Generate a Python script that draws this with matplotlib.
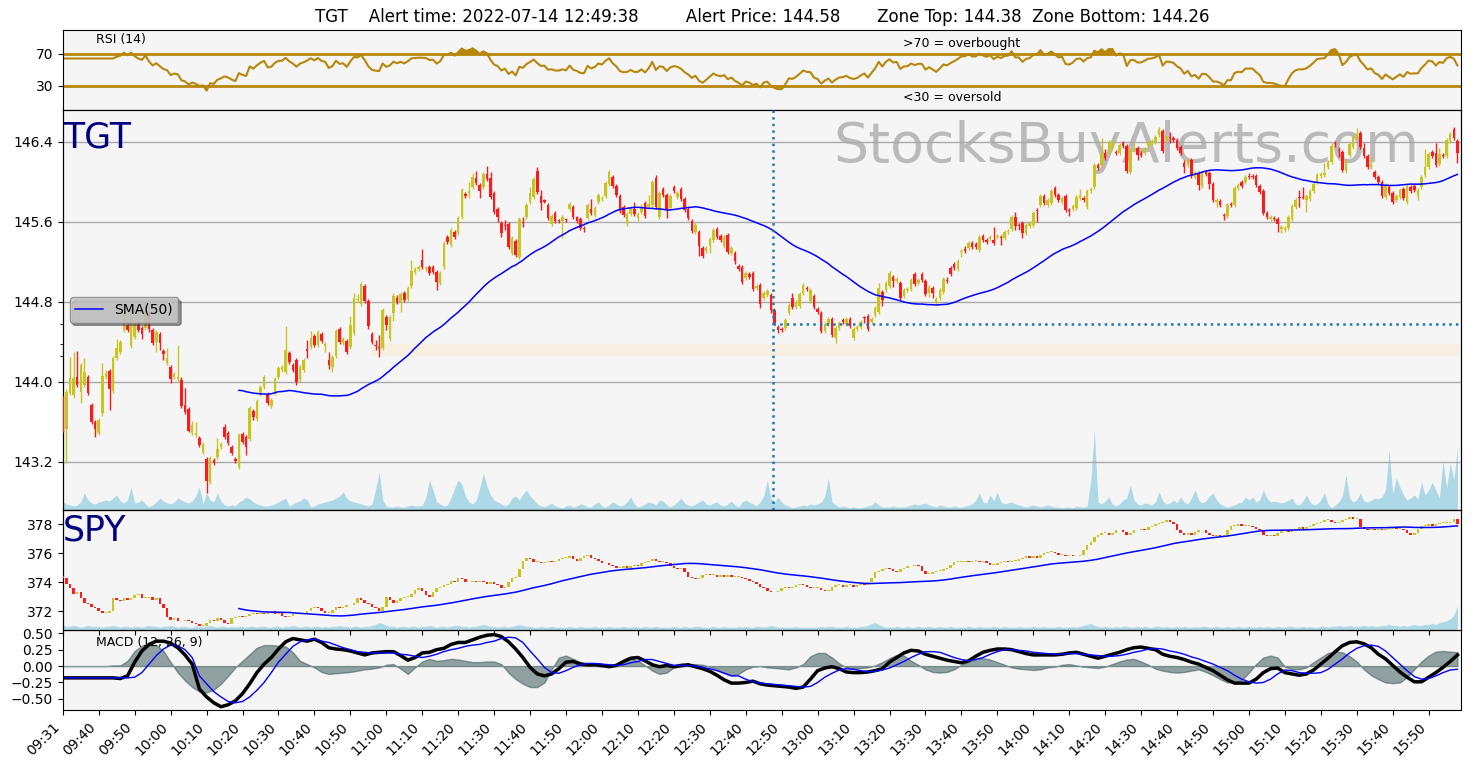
import numpy as np
import pandas as pd
import matplotlib
matplotlib.use("Agg")
import matplotlib.pyplot as plt

# alert info
symbol = "TGT"
alert_time = "2022-07-14 12:49:38"
alert_price = 144.58
zone_top = 144.38
zone_bottom = 144.26
alert_index = 197.6
zone_start = 86

tick_labels = ['09:31', '09:40', '09:50', '10:00', '10:10', '10:20', '10:30', '10:40', '10:50',
               '11:00', '11:10', '11:20', '11:30', '11:40', '11:50', '12:00', '12:10', '12:20',
               '12:30', '12:40', '12:50', '13:00', '13:10', '13:20', '13:30', '13:40', '13:50',
               '14:00', '14:10', '14:20', '14:30', '14:40', '14:50', '15:00', '15:10', '15:20',
               '15:30', '15:40', '15:50']

# TGT 1-minute bars
tgt_open = [
    143.82, 143.53, 143.89, 143.87, 144.05, 143.90, 143.97, 144.05, 143.77, 143.60,
    143.49, 143.69, 144.05, 144.11, 143.91, 144.24, 144.30, 144.52, 144.57, 144.36,
    144.45, 144.59, 144.54, 144.54, 144.69, 144.52, 144.40, 144.48, 144.31, 144.19,
    144.15, 144.05, 144.03, 144.02, 143.77, 143.73, 143.49, 143.47, 143.44, 143.30,
    143.23, 143.00, 143.22, 143.25, 143.35, 143.55, 143.49, 143.35, 143.23, 143.15,
    143.48, 143.45, 143.43, 143.71, 143.63, 143.88, 143.95, 143.88, 143.76, 143.89,
    144.05, 144.12, 144.10, 144.29, 144.17, 144.22, 144.02, 144.12, 144.33, 144.35,
    144.46, 144.37, 144.48, 144.36, 144.22, 144.15, 144.26, 144.53, 144.39, 144.41,
    144.35, 144.49, 144.82, 144.78, 144.96, 144.81, 144.48, 144.37, 144.35, 144.34,
    144.65, 144.43, 144.69, 144.84, 144.80, 144.89, 144.83, 144.96, 145.10, 145.13,
    145.22, 145.13, 145.15, 145.15, 145.10, 144.99, 145.15, 145.45, 145.37, 145.50,
    145.49, 145.65, 145.88, 145.89, 145.95, 146.04, 145.97, 145.95, 146.08, 146.04,
    145.89, 145.73, 145.59, 145.57, 145.58, 145.29, 145.41, 145.25, 145.60, 145.65,
    145.80, 145.85, 146.11, 145.86, 145.82, 145.77, 145.58, 145.69, 145.62, 145.61,
    145.63, 145.73, 145.75, 145.65, 145.63, 145.54, 145.64, 145.73, 145.67, 145.80,
    145.83, 145.86, 145.98, 146.05, 145.96, 145.86, 145.75, 145.59, 145.68, 145.73,
    145.64, 145.70, 145.79, 145.75, 145.77, 146.04, 145.65, 145.93, 145.87, 145.74,
    145.95, 145.85, 145.93, 145.83, 145.73, 145.61, 145.50, 145.50, 145.34, 145.31,
    145.36, 145.42, 145.53, 145.46, 145.36, 145.47, 145.29, 145.29, 145.16, 145.15,
    145.04, 145.08, 145.09, 144.94, 144.97, 144.84, 144.87, 144.87, 144.72, 144.55,
    144.53, 144.54, 144.69, 144.84, 144.75, 144.76, 144.89, 144.94, 144.81, 144.86,
    144.73, 144.69, 144.51, 144.58, 144.63, 144.44, 144.54, 144.62, 144.58, 144.63,
    144.44, 144.53, 144.55, 144.65, 144.66, 144.60, 144.67, 144.70, 144.90, 144.92,
    144.96, 145.05, 145.01, 144.99, 144.86, 144.92, 144.93, 145.08, 144.99, 145.08,
    145.01, 144.89, 144.94, 144.79, 144.84, 144.90, 145.02, 145.14, 145.18, 145.13,
    145.30, 145.33, 145.34, 145.39, 145.38, 145.32, 145.46, 145.42, 145.43, 145.42,
    145.45, 145.45, 145.44, 145.50, 145.53, 145.65, 145.57, 145.59, 145.49, 145.56,
    145.57, 145.72, 145.77, 145.86, 145.77, 145.79, 145.94, 145.87, 145.80, 145.86,
    145.72, 145.73, 145.74, 145.84, 145.84, 145.75, 145.91, 145.95, 146.17, 146.17,
    146.29, 146.29, 146.34, 146.30, 146.29, 146.39, 146.36, 146.10, 146.32, 146.34,
    146.29, 146.29, 146.36, 146.39, 146.40, 146.47, 146.51, 146.42, 146.45, 146.44,
    146.42, 146.35, 146.19, 146.17, 146.22, 146.05, 146.09, 145.96, 146.10, 146.09,
    145.98, 145.80, 145.81, 145.67, 145.66, 145.78, 145.77, 145.94, 146.00, 146.00,
    146.06, 146.06, 146.06, 145.96, 145.91, 145.69, 145.63, 145.64, 145.63, 145.53,
    145.52, 145.54, 145.63, 145.75, 145.85, 145.85, 145.82, 145.83, 145.91, 146.00,
    146.06, 146.07, 146.15, 146.20, 146.39, 146.32, 146.30, 146.11, 146.27, 146.35,
    146.45, 146.49, 146.34, 146.26, 146.15, 146.10, 146.05, 146.00, 145.85, 145.95,
    145.89, 145.82, 145.85, 145.93, 145.80, 145.95, 145.96, 145.86, 145.95, 146.07,
    146.15, 146.30, 146.29, 146.18, 146.27, 146.26, 146.41, 146.53, 146.41]

tgt_high = [
    143.86, 143.93, 144.25, 144.30, 144.31, 144.19, 144.24, 144.07, 143.79, 143.62,
    143.64, 144.19, 144.12, 144.13, 144.26, 144.43, 144.42, 144.69, 144.60, 144.75,
    144.61, 144.61, 144.56, 144.80, 144.71, 144.54, 144.52, 144.50, 144.33, 144.34,
    144.17, 144.10, 144.37, 144.05, 143.94, 143.75, 143.61, 143.60, 143.46, 143.40,
    143.25, 143.26, 143.24, 143.44, 143.40, 143.58, 143.51, 143.37, 143.25, 143.48,
    143.50, 143.47, 143.76, 143.73, 143.83, 143.97, 144.07, 143.90, 143.84, 144.05,
    144.16, 144.17, 144.56, 144.31, 144.19, 144.24, 144.17, 144.24, 144.42, 144.51,
    144.48, 144.52, 144.50, 144.40, 144.30, 144.27, 144.53, 144.55, 144.45, 144.43,
    144.66, 144.89, 144.88, 145.00, 144.98, 144.83, 144.50, 144.42, 144.47, 144.74,
    144.67, 144.67, 144.89, 144.87, 144.90, 144.91, 144.96, 145.22, 145.15, 145.17,
    145.33, 145.16, 145.17, 145.17, 145.12, 145.11, 145.41, 145.47, 145.54, 145.52,
    145.66, 145.94, 145.90, 146.00, 146.09, 146.11, 145.99, 146.10, 146.16, 146.10,
    145.91, 145.75, 145.61, 145.62, 145.60, 145.46, 145.43, 145.65, 145.65, 145.79,
    145.95, 146.05, 146.15, 145.92, 145.83, 145.79, 145.68, 145.71, 145.63, 145.67,
    145.64, 145.80, 145.77, 145.66, 145.65, 145.56, 145.79, 145.83, 145.76, 145.89,
    145.86, 146.01, 146.12, 146.07, 145.98, 145.88, 145.77, 145.70, 145.76, 145.80,
    145.70, 145.78, 145.81, 145.87, 146.02, 146.07, 145.91, 145.95, 145.89, 145.88,
    145.97, 145.91, 145.95, 145.85, 145.75, 145.63, 145.60, 145.52, 145.36, 145.36,
    145.45, 145.54, 145.55, 145.48, 145.47, 145.49, 145.36, 145.31, 145.18, 145.17,
    145.11, 145.10, 145.11, 144.98, 144.99, 144.91, 144.93, 144.89, 144.74, 144.57,
    144.55, 144.64, 144.79, 144.89, 144.82, 144.90, 144.99, 144.96, 144.94, 144.88,
    144.75, 144.71, 144.60, 144.65, 144.65, 144.56, 144.61, 144.64, 144.65, 144.65,
    144.55, 144.57, 144.62, 144.66, 144.68, 144.65, 144.76, 144.99, 144.92, 145.01,
    145.11, 145.07, 145.05, 145.01, 144.94, 144.95, 145.04, 145.10, 145.04, 145.10,
    145.03, 144.97, 144.96, 144.85, 144.94, 145.05, 145.05, 145.16, 145.20, 145.23,
    145.33, 145.36, 145.41, 145.41, 145.40, 145.47, 145.48, 145.44, 145.47, 145.55,
    145.48, 145.47, 145.52, 145.53, 145.67, 145.70, 145.59, 145.61, 145.59, 145.61,
    145.71, 145.74, 145.88, 145.88, 145.84, 145.93, 145.96, 145.89, 145.86, 145.88,
    145.74, 145.78, 145.87, 145.93, 145.86, 145.93, 145.95, 146.19, 146.19, 146.44,
    146.33, 146.42, 146.42, 146.32, 146.39, 146.41, 146.38, 146.34, 146.40, 146.36,
    146.31, 146.35, 146.42, 146.43, 146.47, 146.55, 146.53, 146.47, 146.50, 146.46,
    146.44, 146.37, 146.22, 146.24, 146.24, 146.11, 146.11, 146.11, 146.12, 146.11,
    146.00, 145.84, 145.83, 145.69, 145.79, 145.80, 145.96, 145.99, 146.02, 146.07,
    146.09, 146.08, 146.08, 145.98, 145.93, 145.71, 145.67, 145.66, 145.65, 145.57,
    145.56, 145.67, 145.78, 145.84, 145.92, 145.95, 145.88, 145.93, 146.00, 146.09,
    146.10, 146.19, 146.22, 146.39, 146.41, 146.35, 146.32, 146.23, 146.40, 146.47,
    146.54, 146.51, 146.39, 146.28, 146.24, 146.12, 146.07, 146.02, 145.99, 145.97,
    145.91, 145.88, 145.94, 145.95, 145.98, 145.97, 145.98, 145.94, 146.07, 146.33,
    146.30, 146.32, 146.39, 146.34, 146.29, 146.44, 146.50, 146.55, 146.43]

tgt_low = [
    143.50, 143.19, 143.87, 143.84, 143.95, 143.79, 143.95, 143.87, 143.58, 143.45,
    143.47, 143.66, 144.03, 143.72, 143.89, 144.22, 144.28, 144.50, 144.50, 144.34,
    144.43, 144.50, 144.43, 144.52, 144.50, 144.37, 144.30, 144.32, 144.22, 144.17,
    143.99, 144.03, 144.00, 143.74, 143.68, 143.50, 143.47, 143.45, 143.35, 143.28,
    142.89, 142.98, 143.17, 143.23, 143.33, 143.43, 143.37, 143.27, 143.19, 143.13,
    143.38, 143.27, 143.41, 143.62, 143.61, 143.86, 143.93, 143.77, 143.74, 143.87,
    144.03, 144.10, 144.08, 144.18, 144.10, 143.97, 144.00, 144.10, 144.24, 144.33,
    144.35, 144.35, 144.39, 144.30, 144.13, 144.10, 144.24, 144.38, 144.37, 144.28,
    144.33, 144.47, 144.80, 144.76, 144.79, 144.53, 144.38, 144.32, 144.25, 144.32,
    144.52, 144.41, 144.61, 144.78, 144.70, 144.80, 144.81, 144.94, 145.08, 145.11,
    145.13, 145.11, 145.07, 145.08, 144.92, 144.97, 145.13, 145.38, 145.35, 145.43,
    145.47, 145.63, 145.84, 145.84, 145.93, 145.97, 145.84, 145.93, 146.01, 145.83,
    145.68, 145.60, 145.45, 145.52, 145.33, 145.27, 145.25, 145.23, 145.55, 145.63,
    145.78, 145.83, 145.88, 145.72, 145.79, 145.62, 145.56, 145.59, 145.59, 145.44,
    145.60, 145.71, 145.63, 145.59, 145.52, 145.50, 145.62, 145.67, 145.65, 145.78,
    145.81, 145.84, 145.96, 145.94, 145.85, 145.69, 145.65, 145.56, 145.66, 145.66,
    145.61, 145.68, 145.64, 145.73, 145.75, 145.73, 145.63, 145.85, 145.64, 145.72,
    145.89, 145.83, 145.81, 145.70, 145.62, 145.49, 145.48, 145.26, 145.24, 145.29,
    145.29, 145.40, 145.43, 145.40, 145.34, 145.28, 145.27, 145.18, 145.11, 144.98,
    145.02, 145.03, 144.91, 144.92, 144.74, 144.82, 144.85, 144.69, 144.57, 144.49,
    144.50, 144.52, 144.67, 144.73, 144.73, 144.74, 144.87, 144.91, 144.79, 144.73,
    144.68, 144.49, 144.49, 144.56, 144.45, 144.39, 144.52, 144.58, 144.56, 144.54,
    144.42, 144.51, 144.53, 144.59, 144.51, 144.58, 144.65, 144.68, 144.76, 144.90,
    144.94, 144.95, 144.99, 144.82, 144.84, 144.90, 144.91, 144.96, 144.97, 145.00,
    144.86, 144.85, 144.84, 144.77, 144.82, 144.88, 144.99, 145.06, 145.12, 145.11,
    145.25, 145.29, 145.32, 145.33, 145.33, 145.30, 145.40, 145.38, 145.41, 145.37,
    145.43, 145.37, 145.42, 145.48, 145.51, 145.52, 145.52, 145.44, 145.47, 145.54,
    145.55, 145.60, 145.75, 145.77, 145.75, 145.77, 145.85, 145.80, 145.78, 145.70,
    145.66, 145.71, 145.72, 145.82, 145.80, 145.73, 145.89, 145.93, 146.12, 146.15,
    146.22, 146.27, 146.32, 146.27, 146.27, 146.34, 146.09, 146.08, 146.30, 146.22,
    146.25, 146.27, 146.34, 146.37, 146.38, 146.45, 146.29, 146.40, 146.39, 146.40,
    146.32, 146.27, 146.09, 146.15, 146.04, 146.03, 145.92, 145.94, 146.06, 145.93,
    145.80, 145.75, 145.75, 145.62, 145.64, 145.75, 145.75, 145.92, 145.94, 145.98,
    146.03, 146.03, 145.95, 145.88, 145.67, 145.63, 145.61, 145.61, 145.50, 145.49,
    145.50, 145.52, 145.61, 145.73, 145.75, 145.83, 145.70, 145.81, 145.89, 145.98,
    146.04, 146.05, 146.13, 146.18, 146.35, 146.25, 146.10, 146.09, 146.25, 146.33,
    146.43, 146.33, 146.24, 146.13, 146.13, 146.03, 145.98, 145.84, 145.83, 145.87,
    145.78, 145.80, 145.83, 145.82, 145.78, 145.89, 145.90, 145.82, 145.93, 146.05,
    146.13, 146.24, 146.15, 146.16, 146.24, 146.24, 146.39, 146.42, 146.19]

tgt_close = [
    143.55, 143.90, 144.04, 144.04, 143.97, 144.17, 144.10, 143.89, 143.60, 143.53,
    143.62, 144.06, 144.09, 143.93, 144.24, 144.34, 144.40, 144.59, 144.52, 144.69,
    144.59, 144.52, 144.48, 144.72, 144.53, 144.39, 144.50, 144.39, 144.28, 144.24,
    144.03, 144.08, 144.05, 143.76, 143.70, 143.51, 143.57, 143.49, 143.37, 143.38,
    143.01, 143.24, 143.19, 143.33, 143.38, 143.45, 143.39, 143.29, 143.21, 143.48,
    143.40, 143.35, 143.74, 143.65, 143.81, 143.95, 144.05, 143.79, 143.82, 144.03,
    144.14, 144.15, 144.32, 144.20, 144.12, 144.00, 144.15, 144.22, 144.31, 144.44,
    144.37, 144.50, 144.41, 144.38, 144.17, 144.25, 144.51, 144.40, 144.43, 144.30,
    144.57, 144.84, 144.83, 144.98, 144.81, 144.56, 144.40, 144.36, 144.34, 144.72,
    144.57, 144.65, 144.86, 144.80, 144.88, 144.82, 144.94, 145.11, 145.13, 145.15,
    145.15, 145.14, 145.09, 145.10, 145.00, 145.09, 145.39, 145.40, 145.52, 145.45,
    145.64, 145.92, 145.86, 145.91, 146.05, 145.99, 145.91, 146.08, 146.03, 145.85,
    145.70, 145.65, 145.49, 145.56, 145.35, 145.44, 145.27, 145.63, 145.59, 145.77,
    145.89, 146.03, 145.90, 145.79, 145.80, 145.64, 145.66, 145.61, 145.61, 145.65,
    145.62, 145.78, 145.65, 145.61, 145.54, 145.53, 145.77, 145.69, 145.74, 145.87,
    145.84, 145.99, 146.10, 145.96, 145.87, 145.71, 145.67, 145.68, 145.74, 145.68,
    145.68, 145.75, 145.66, 145.78, 146.00, 145.75, 145.89, 145.87, 145.73, 145.86,
    145.91, 145.89, 145.83, 145.72, 145.64, 145.51, 145.57, 145.36, 145.26, 145.34,
    145.43, 145.52, 145.45, 145.42, 145.45, 145.30, 145.34, 145.21, 145.13, 145.00,
    145.09, 145.05, 144.93, 144.96, 144.78, 144.89, 144.91, 144.72, 144.59, 144.52,
    144.52, 144.62, 144.77, 144.75, 144.80, 144.88, 144.97, 144.93, 144.92, 144.75,
    144.70, 144.51, 144.58, 144.63, 144.47, 144.54, 144.59, 144.60, 144.63, 144.56,
    144.53, 144.55, 144.60, 144.64, 144.53, 144.63, 144.74, 144.94, 144.82, 144.99,
    145.09, 145.01, 145.03, 144.84, 144.92, 144.93, 145.02, 144.98, 145.02, 145.02,
    144.88, 144.95, 144.89, 144.83, 144.92, 145.03, 145.01, 145.08, 145.14, 145.21,
    145.31, 145.31, 145.39, 145.35, 145.35, 145.45, 145.42, 145.40, 145.45, 145.39,
    145.46, 145.44, 145.50, 145.51, 145.65, 145.56, 145.56, 145.49, 145.57, 145.59,
    145.69, 145.71, 145.86, 145.79, 145.82, 145.91, 145.87, 145.82, 145.84, 145.72,
    145.71, 145.76, 145.85, 145.87, 145.82, 145.91, 145.93, 146.17, 146.14, 146.29,
    146.24, 146.40, 146.40, 146.29, 146.37, 146.36, 146.11, 146.32, 146.33, 146.27,
    146.27, 146.33, 146.40, 146.41, 146.45, 146.53, 146.31, 146.45, 146.44, 146.42,
    146.34, 146.29, 146.15, 146.22, 146.06, 146.09, 145.97, 146.09, 146.08, 145.98,
    145.82, 145.82, 145.77, 145.66, 145.77, 145.77, 145.94, 145.97, 145.96, 146.05,
    146.05, 146.05, 145.97, 145.90, 145.69, 145.65, 145.65, 145.63, 145.58, 145.55,
    145.54, 145.65, 145.76, 145.82, 145.84, 145.84, 145.86, 145.91, 145.98, 146.07,
    146.08, 146.09, 146.20, 146.36, 146.38, 146.31, 146.12, 146.21, 146.38, 146.45,
    146.48, 146.35, 146.26, 146.15, 146.18, 146.05, 146.00, 145.86, 145.97, 145.89,
    145.80, 145.86, 145.92, 145.84, 145.96, 145.91, 145.92, 145.92, 146.05, 146.15,
    146.28, 146.26, 146.17, 146.28, 146.26, 146.42, 146.48, 146.44, 146.29]

tgt_volume = [
    8, 6, 5, 4, 5, 8, 17, 10, 7, 6,
    8, 9, 10, 9, 12, 15, 9, 7, 10, 23,
    7, 8, 10, 6, 3, 5, 8, 12, 9, 7,
    6, 8, 12, 10, 8, 7, 9, 14, 23, 6,
    17, 10, 8, 17, 9, 5, 4, 5, 4, 8,
    10, 13, 11, 8, 6, 5, 4, 4, 5, 6,
    8, 10, 12, 4, 6, 8, 9, 12, 10, 3,
    4, 6, 7, 8, 9, 10, 12, 14, 18, 12,
    9, 8, 7, 6, 5, 4, 6, 20, 38, 10,
    4, 3, 3, 4, 3, 3, 4, 5, 4, 4,
    5, 12, 30, 20, 8, 6, 4, 5, 12, 22,
    30, 26, 14, 8, 6, 10, 22, 37, 24, 15,
    10, 8, 6, 4, 6, 12, 14, 10, 16, 20,
    14, 10, 6, 4, 3, 5, 7, 4, 3, 2,
    4, 5, 3, 4, 6, 5, 3, 3, 6, 8,
    4, 3, 5, 8, 6, 4, 5, 8, 13, 6,
    3, 4, 6, 8, 7, 5, 10, 9, 5, 3,
    5, 8, 12, 7, 5, 4, 6, 8, 10, 6,
    5, 7, 8, 5, 4, 6, 9, 5, 3, 8,
    10, 8, 6, 4, 8, 14, 30, 12, 8, 13,
    8, 5, 4, 2, 3, 4, 5, 4, 6, 5,
    6, 8, 14, 32, 8, 5, 3, 4, 3, 2,
    3, 2, 2, 3, 4, 5, 8, 5, 3, 3,
    3, 4, 3, 3, 3, 4, 5, 6, 5, 6,
    7, 5, 4, 3, 5, 4, 3, 3, 4, 3,
    3, 4, 5, 6, 10, 17, 8, 7, 15, 9,
    18, 8, 6, 7, 8, 6, 5, 4, 3, 4,
    5, 4, 3, 4, 5, 4, 3, 3, 2, 3,
    3, 2, 4, 3, 3, 4, 30, 80, 8, 6,
    9, 13, 6, 4, 6, 10, 12, 25, 10, 6,
    5, 7, 6, 5, 8, 18, 9, 6, 7, 10,
    7, 13, 8, 6, 12, 20, 10, 7, 9, 14,
    17, 10, 6, 4, 3, 4, 5, 7, 8, 13,
    10, 13, 8, 10, 20, 12, 8, 9, 8, 7,
    8, 10, 12, 6, 5, 9, 15, 8, 5, 6,
    10, 17, 6, 2, 5, 8, 14, 35, 12, 8,
    10, 17, 9, 8, 10, 12, 11, 13, 20, 60,
    16, 32, 23, 15, 10, 12, 15, 11, 28, 15,
    20, 28, 20, 12, 50, 22, 47, 30, 63]

# SPY 1-minute closes (open = previous close)
spy_first_open = 374.45
spy_close = [
    374.3, 373.9, 373.6, 373.2, 373.3, 372.9, 372.6, 372.5, 372.3, 372.2,
    372.0, 371.9, 371.9, 372.0, 372.9, 372.8, 372.7, 372.9, 372.8, 372.9,
    373.1, 373.2, 372.9, 372.9, 373.0, 372.8, 372.9, 372.5, 372.2, 371.6,
    371.4, 371.5, 371.3, 371.3, 371.4, 371.3, 371.2, 371.1, 371.0, 371.0,
    371.2, 371.4, 371.3, 371.5, 371.4, 371.2, 371.1, 371.5, 371.6, 371.7,
    371.6, 371.7, 371.8, 371.9, 371.8, 371.9, 371.8, 371.9, 372.0, 371.8,
    371.9, 371.7, 371.6, 371.7, 371.8, 371.8, 371.9, 371.8, 372.0, 372.2,
    372.3, 372.2, 372.0, 371.9, 371.9, 372.1, 372.3, 372.2, 372.3, 372.4,
    372.4, 372.6, 372.9, 372.8, 372.6, 372.5, 372.3, 372.2, 372.0, 372.3,
    373.0, 372.8, 372.6, 372.7, 372.9, 373.0, 373.0, 373.2, 373.5, 373.6,
    373.4, 373.1, 373.0, 373.3, 373.6, 373.7, 373.8, 373.9, 374.1, 374.0,
    374.3, 374.2, 374.0, 374.0, 374.1, 374.0, 374.1, 374.0, 373.9, 374.0,
    373.9, 373.8, 373.6, 373.7, 374.0, 374.3, 374.4, 374.9, 375.5, 375.7,
    375.6, 375.4, 375.4, 375.3, 375.4, 375.5, 375.4, 375.5, 375.6, 375.7,
    375.7, 375.8, 375.6, 375.5, 375.7, 375.8, 375.9, 375.7, 375.6, 375.5,
    375.3, 375.3, 375.2, 375.1, 375.0, 375.0, 375.1, 375.0, 375.1, 375.2,
    375.1, 375.3, 375.4, 375.5, 375.6, 375.5, 375.4, 375.4, 375.3, 375.1,
    375.0, 374.9, 375.0, 374.7, 374.4, 374.3, 374.2, 374.3, 374.5, 374.6,
    374.5, 374.5, 374.4, 374.5, 374.4, 374.5, 374.4, 374.4, 374.4, 374.3,
    374.2, 374.1, 374.0, 373.9, 373.7, 373.6, 373.4, 373.3, 373.3, 373.4,
    373.6, 373.7, 373.6, 373.7, 373.8, 373.9, 373.8, 373.7, 373.6, 373.6,
    373.6, 373.5, 373.4, 373.4, 373.7, 373.8, 373.8, 373.7, 373.8, 373.8,
    373.7, 373.8, 373.9, 373.8, 374.0, 374.3, 374.7, 374.8, 374.9, 375.0,
    374.9, 374.8, 374.7, 374.9, 375.0, 375.1, 375.1, 375.2, 375.1, 374.8,
    374.6, 374.6, 374.7, 374.8, 374.8, 374.9, 375.0, 375.2, 375.4, 375.4,
    375.4, 375.5, 375.4, 375.5, 375.5, 375.4, 375.5, 375.3, 375.2, 375.2,
    375.3, 375.4, 375.5, 375.4, 375.5, 375.5, 375.6, 375.7, 375.8, 375.7,
    375.8, 375.7, 375.9, 376.0, 376.1, 376.1, 376.0, 375.9, 375.9, 375.8,
    375.9, 375.8, 375.8, 375.9, 376.2, 376.6, 376.8, 377.1, 377.3, 377.4,
    377.4, 377.3, 377.4, 377.6, 377.6, 377.5, 377.3, 377.4, 377.6, 377.6,
    377.7, 377.6, 377.8, 377.9, 378.0, 378.1, 378.2, 378.3, 378.2, 378.0,
    377.6, 377.4, 377.3, 377.4, 377.3, 377.5, 377.6, 377.6, 377.4, 377.3,
    377.2, 377.3, 377.2, 377.3, 377.6, 377.9, 377.9, 378.0, 377.9, 377.9,
    377.9, 377.8, 377.7, 377.6, 377.3, 377.2, 377.3, 377.2, 377.4, 377.6,
    377.6, 377.5, 377.6, 377.7, 377.8, 377.7, 377.8, 377.9, 378.0, 378.1,
    378.2, 378.3, 378.3, 378.2, 378.1, 378.2, 378.3, 378.4, 378.5, 378.4,
    378.4, 377.8, 377.7, 377.6, 377.7, 377.6, 377.7, 377.6, 377.7, 377.7,
    377.8, 377.7, 377.7, 377.6, 377.4, 377.3, 377.4, 377.7, 377.9, 377.9,
    378.0, 377.9, 378.0, 378.1, 378.1, 378.1, 378.2, 378.4, 378.0]

spy_volume = [
    5, 4, 4, 5, 4, 3, 4, 5, 4, 4,
    4, 3, 4, 4, 5, 4, 3, 4, 4, 3,
    4, 4, 3, 4, 5, 4, 4, 3, 4, 4,
    5, 4, 3, 4, 4, 3, 3, 4, 4, 3,
    4, 5, 4, 3, 4, 4, 3, 4, 3, 4,
    4, 3, 4, 4, 3, 4, 4, 3, 3, 4,
    4, 3, 4, 4, 5, 4, 3, 4, 4, 3,
    4, 4, 3, 4, 3, 4, 4, 5, 4, 4,
    3, 4, 4, 3, 4, 4, 5, 6, 8, 7,
    5, 4, 4, 3, 4, 4, 3, 4, 4, 3,
    4, 4, 5, 4, 3, 4, 4, 3, 4, 5,
    5, 4, 4, 3, 4, 4, 5, 6, 5, 4,
    4, 3, 4, 4, 3, 4, 5, 6, 5, 4,
    4, 3, 3, 4, 3, 3, 4, 3, 3, 3,
    3, 4, 3, 3, 4, 3, 3, 3, 4, 3,
    3, 3, 4, 3, 3, 3, 4, 3, 3, 4,
    3, 3, 4, 3, 3, 4, 3, 3, 3, 3,
    4, 3, 3, 4, 3, 3, 4, 4, 3, 3,
    3, 4, 3, 3, 4, 3, 3, 3, 4, 3,
    4, 3, 3, 4, 4, 3, 4, 5, 4, 3,
    3, 3, 3, 3, 4, 3, 3, 3, 3, 3,
    3, 4, 3, 4, 4, 3, 3, 3, 4, 3,
    3, 3, 4, 4, 5, 7, 8, 6, 4, 3,
    3, 3, 4, 3, 3, 4, 3, 3, 4, 3,
    3, 4, 3, 3, 4, 3, 3, 4, 3, 3,
    3, 3, 4, 3, 3, 4, 3, 3, 3, 4,
    3, 3, 4, 3, 3, 3, 4, 3, 3, 3,
    4, 3, 3, 4, 3, 3, 3, 4, 3, 3,
    3, 4, 3, 4, 5, 6, 7, 5, 4, 3,
    4, 3, 3, 4, 3, 4, 4, 3, 3, 4,
    3, 4, 3, 3, 4, 4, 3, 4, 3, 3,
    4, 3, 4, 3, 3, 4, 3, 4, 4, 3,
    3, 4, 3, 3, 4, 3, 3, 4, 3, 3,
    4, 3, 3, 4, 3, 4, 3, 3, 4, 3,
    3, 4, 4, 3, 3, 4, 3, 4, 3, 3,
    4, 4, 3, 4, 4, 5, 4, 4, 5, 4,
    4, 4, 5, 4, 5, 4, 4, 5, 5, 6,
    5, 5, 4, 5, 4, 5, 6, 5, 5, 6,
    6, 7, 6, 8, 9, 10, 12, 16, 26]

# MACD (12, 26, 9) read every 2 bars
macd_step = 2
macd_line = [
    -0.18, -0.18, -0.18, -0.18, -0.18, -0.18, -0.18, -0.18, -0.19,
    -0.15, 0.06, 0.23, 0.33, 0.38, 0.38, 0.35, 0.28, 0.17, 0.03,
    -0.35, -0.47, -0.56, -0.62, -0.59, -0.53, -0.42, -0.27, -0.10, 0.03,
    0.13, 0.26, 0.37, 0.42, 0.40, 0.38, 0.41, 0.36, 0.28, 0.26,
    0.25, 0.23, 0.20, 0.17, 0.20, 0.21, 0.22, 0.22, 0.16, 0.09,
    0.13, 0.20, 0.21, 0.25, 0.27, 0.33, 0.36, 0.36, 0.40, 0.44,
    0.47, 0.48, 0.45, 0.37, 0.26, 0.13, -0.02, -0.12, -0.15, -0.12,
    -0.04, 0.06, 0.07, 0.03, 0.02, 0.02, 0.01, -0.01, 0.01, 0.07,
    0.12, 0.13, 0.08, 0.02, -0.01, 0.01,
    -0.01, 0.01, 0.02, -0.01, -0.04, -0.08, -0.14, -0.21, -0.26,
    -0.26, -0.25, -0.23, -0.27, -0.29, -0.30, -0.31, -0.32, -0.34, -0.32,
    -0.20, -0.07, -0.03, -0.01, -0.04, -0.09, -0.10, -0.10, -0.09, -0.07,
    -0.04, 0.06, 0.13, 0.20, 0.24, 0.23, 0.18, 0.15, 0.12, 0.09,
    0.07, 0.05, 0.08, 0.15, 0.21, 0.24, 0.26, 0.26, 0.25, 0.22,
    0.19, 0.17, 0.17, 0.17, 0.17, 0.18, 0.20, 0.21, 0.18, 0.15,
    0.12, 0.15, 0.18, 0.21, 0.25, 0.28, 0.29, 0.27, 0.25, 0.18,
    0.15, 0.13, 0.10, 0.06, 0.03, -0.02, -0.07, -0.14, -0.21, -0.26,
    -0.26, -0.26, -0.20, -0.10, -0.04, -0.03,
    -0.10, -0.12, -0.14, -0.12, -0.06, 0.03, 0.12, 0.22, 0.31, 0.36,
    0.37, 0.34, 0.28, 0.18, 0.11, 0.01, -0.09, -0.17, -0.24, -0.24,
    -0.17, -0.10, -0.02, 0.07, 0.17]

macd_signal = [
    -0.18, -0.18, -0.18, -0.18, -0.18, -0.18, -0.18, -0.18, -0.18,
    -0.18, -0.17, -0.10, 0.03, 0.16, 0.26, 0.32, 0.31, 0.25, 0.13,
    -0.15, -0.27, -0.39, -0.47, -0.54, -0.56, -0.54, -0.47, -0.37, -0.25,
    -0.10, 0.06, 0.18, 0.30, 0.37, 0.40, 0.41, 0.38, 0.36, 0.32,
    0.28, 0.25, 0.22, 0.21, 0.20, 0.20, 0.20, 0.20, 0.18, 0.17,
    0.15, 0.13, 0.15, 0.18, 0.22, 0.25, 0.27, 0.30, 0.32, 0.33,
    0.36, 0.38, 0.42, 0.44, 0.43, 0.36, 0.23, 0.11, -0.02, -0.10,
    -0.11, -0.07, -0.02, 0.02, 0.04, 0.04, 0.03, 0.02, 0.01, 0.02,
    0.05, 0.07, 0.10, 0.10, 0.07, 0.04,
    0.01, 0.01, 0.01, 0.00, -0.02, -0.04, -0.07, -0.11, -0.15,
    -0.15, -0.20, -0.24, -0.26, -0.27, -0.28, -0.29, -0.30, -0.31, -0.32,
    -0.31, -0.25, -0.17, -0.11, -0.06, -0.04, -0.05, -0.07, -0.09, -0.08,
    -0.06, -0.03, 0.02, 0.07, 0.13, 0.18, 0.22, 0.22, 0.21, 0.17,
    0.13, 0.10, 0.08, 0.10, 0.13, 0.18, 0.22, 0.25, 0.25, 0.24,
    0.23, 0.21, 0.20, 0.19, 0.18, 0.18, 0.19, 0.19, 0.18, 0.17,
    0.16, 0.15, 0.15, 0.16, 0.18, 0.21, 0.23, 0.26, 0.27, 0.26,
    0.23, 0.21, 0.18, 0.14, 0.11, 0.07, 0.03, -0.02, -0.07, -0.14,
    -0.20, -0.24, -0.26, -0.25, -0.20, -0.12,
    -0.06, -0.07, -0.10, -0.11, -0.11, -0.10, -0.05, 0.03, 0.11, 0.20,
    0.27, 0.31, 0.32, 0.30, 0.23, 0.13, 0.03, -0.07, -0.16, -0.20,
    -0.19, -0.15, -0.10, -0.06, -0.05]

macd_hist = [
    0.0, 0.0, 0.0, 0.0, 0.0, 0.0, 0.0, 0.01, 0.01,
    0.08, 0.23, 0.31, 0.32, 0.32, 0.23, 0.06, -0.10, -0.22, -0.32,
    -0.39, -0.40, -0.36, -0.27, -0.15, -0.02, 0.08, 0.18, 0.28, 0.32,
    0.32, 0.31, 0.30, 0.21, 0.08, 0.03, -0.02, -0.09, -0.12, -0.11,
    -0.10, -0.09, -0.07, -0.05, -0.04, -0.02, 0.02, 0.03, -0.04, -0.12,
    -0.02, 0.07, 0.11, 0.08, 0.09, 0.11, 0.10, 0.08, 0.06, 0.06,
    0.07, 0.07, 0.03, -0.10, -0.20, -0.27, -0.32, -0.32, -0.25, -0.05,
    0.13, 0.16, 0.11, 0.06, 0.02, 0.01, -0.01, 0.01, 0.02, 0.07,
    0.11, 0.08, 0.01, -0.07, -0.12, -0.10,
    -0.02, -0.01, 0.02, 0.03, 0.02, -0.01, -0.05, -0.10, -0.14,
    -0.12, -0.05, -0.01, 0.00, -0.02, -0.03, -0.04, -0.05, -0.02, 0.03,
    0.15, 0.20, 0.20, 0.13, 0.04, -0.02, -0.04, -0.03, -0.02, 0.01,
    0.06, 0.12, 0.17, 0.16, 0.08, 0.02, -0.05, -0.09, -0.10, -0.09,
    -0.05, 0.02, 0.07, 0.11, 0.12, 0.10, 0.06, 0.02, -0.02, -0.04,
    -0.05, -0.06, -0.05, -0.02, -0.01, 0.02, 0.03, 0.01, -0.01, -0.02,
    -0.03, -0.01, 0.03, 0.07, 0.10, 0.11, 0.07, 0.02, -0.04, -0.07,
    -0.09, -0.10, -0.09, -0.07, -0.05, -0.09, -0.14, -0.20, -0.25, -0.25,
    -0.21, -0.10, 0.03, 0.13, 0.16, 0.13,
    -0.01, -0.05, -0.05, -0.02, 0.06, 0.13, 0.20, 0.22, 0.21, 0.15,
    0.07, -0.05, -0.14, -0.20, -0.25, -0.26, -0.25, -0.17, -0.05, 0.07,
    0.16, 0.22, 0.23, 0.22, 0.21]

UP_COLOR = "#c9c51f"
DOWN_COLOR = "#ff1a1a"
BG = "whitesmoke"
RSI_COLOR = "darkgoldenrod"


def draw_candles(ax, x, o, h, l, c, width=0.7, min_body=0.01):
    o = np.asarray(o)
    c = np.asarray(c)
    colors = np.where(c >= o, UP_COLOR, DOWN_COLOR)
    if h is not None:
        ax.vlines(x, l, h, colors=colors, linewidth=1.0, zorder=3)
    body = np.maximum(np.abs(c - o), min_body)
    ax.bar(x, body, width, bottom=np.minimum(o, c), color=colors, linewidth=0, zorder=4)


def draw_volume(ax, x, vol):
    # volume lives on a twin axis behind the candles
    axv = ax.twinx()
    axv.fill_between(x, vol, 0, color="lightblue", linewidth=0)
    axv.set_ylim(0, max(vol) * 5)
    axv.set_yticks([])
    ax.set_zorder(axv.get_zorder() + 1)
    ax.patch.set_visible(False)
    axv.patch.set_visible(True)
    axv.set_facecolor(BG)
    return axv


def rsi_wilder(close, period=14):
    s = pd.Series(close)
    delta = s.diff()
    gain = delta.clip(lower=0).ewm(alpha=1 / period, min_periods=period).mean()
    loss = (-delta.clip(upper=0)).ewm(alpha=1 / period, min_periods=period).mean()
    return (100 - 100 / (1 + gain / loss)).bfill()


def main():
    n = len(tgt_close)
    x = np.arange(n)
    sma = pd.Series(tgt_close).rolling(50).mean()
    rsi = rsi_wilder(tgt_close)
    spy_sma = pd.Series(spy_close).rolling(50).mean()
    spy_open = [spy_first_open] + spy_close[:-1]
    xm = np.arange(len(macd_line)) * macd_step

    fig = plt.figure(figsize=(14.76, 7.68), dpi=100)
    gs = fig.add_gridspec(4, 1, height_ratios=[80, 400, 120, 80], hspace=0,
                          left=0.04255, right=0.98984, top=0.96094, bottom=0.07552)
    ax_rsi = fig.add_subplot(gs[0])
    ax = fig.add_subplot(gs[1], sharex=ax_rsi)
    ax_spy = fig.add_subplot(gs[2], sharex=ax_rsi)
    ax_macd = fig.add_subplot(gs[3], sharex=ax_rsi)

    # RSI
    ax_rsi.set_facecolor(BG)
    ax_rsi.plot(x, rsi, color=RSI_COLOR, linewidth=1.5)
    ax_rsi.axhline(70, color=RSI_COLOR, linewidth=2)
    ax_rsi.axhline(30, color=RSI_COLOR, linewidth=2)
    ax_rsi.fill_between(x, rsi, 70, where=rsi >= 70, color=RSI_COLOR, interpolate=True)
    ax_rsi.fill_between(x, rsi, 30, where=rsi <= 30, color=RSI_COLOR, interpolate=True)
    ax_rsi.set_ylim(0, 100)
    ax_rsi.set_yticks([30, 70])
    ax_rsi.text(0.024, 0.875, "RSI (14)", transform=ax_rsi.transAxes, fontsize=9, va="center")
    ax_rsi.text(0.601, 0.825, ">70 = overbought", transform=ax_rsi.transAxes, fontsize=9, va="center")
    ax_rsi.text(0.601, 0.15, "<30 = oversold", transform=ax_rsi.transAxes, fontsize=9, va="center")
    ax_rsi.tick_params(axis="x", bottom=False, labelbottom=False)
    ax_rsi.set_title(f"{symbol}    Alert time: {alert_time}         Alert Price: {alert_price:.2f}"
                     f"       Zone Top: {zone_top:.2f}  Zone Bottom: {zone_bottom:.2f}", fontsize=12)

    # TGT price panel
    draw_volume(ax, x, tgt_volume)
    ax.text(0.97, 0.87, "StocksBuyAlerts.com", transform=ax.transAxes, ha="right", va="baseline",
            fontsize=40, color="gray", alpha=0.5, zorder=0)
    ax.grid(axis="y", color="darkgray", linewidth=1)
    ax.set_axisbelow(True)
    ax.fill_between([zone_start, n], zone_bottom, zone_top, color="navajowhite", alpha=0.25,
                    linewidth=0, zorder=1)
    draw_candles(ax, x, tgt_open, tgt_high, tgt_low, tgt_close)
    ax.plot(x, sma, color="blue", linewidth=1.1, label="SMA(50)", zorder=5)
    ax.axvline(alert_index, color="#1f77b4", linestyle=":", linewidth=1.8, zorder=6)
    ax.hlines(alert_price, alert_index, n, color="#1f77b4", linestyle=":", linewidth=1.8, zorder=6)
    ax.set_ylim(142.72, 146.72)
    ax.set_yticks([143.2, 144.0, 144.8, 145.6, 146.4])
    ax.set_yticks([zone_bottom, zone_top, alert_price], minor=True)
    ax.text(0.0, 0.905, symbol, transform=ax.transAxes, fontsize=25, color="navy", va="baseline")
    ax.legend(loc="center left", shadow=True, facecolor="#cccccc", framealpha=0.8, edgecolor="gray")
    ax.tick_params(axis="x", bottom=False, labelbottom=False)

    # SPY panel
    draw_volume(ax_spy, x, spy_volume)
    draw_candles(ax_spy, x, spy_open, None, None, spy_close, min_body=0.05)
    ax_spy.plot(x, spy_sma, color="blue", linewidth=1.1, zorder=5)
    ax_spy.set_ylim(370.7, 379.0)
    ax_spy.set_yticks([372, 374, 376, 378])
    ax_spy.text(0.0, 0.742, "SPY", transform=ax_spy.transAxes, fontsize=25, color="navy", va="baseline")
    ax_spy.tick_params(axis="x", labelbottom=False)

    # MACD
    ax_macd.set_facecolor(BG)
    ax_macd.fill_between(xm, macd_hist, 0, color="darkslategray", alpha=0.5)
    ax_macd.plot(xm, macd_line, color="black", linewidth=2.5)
    ax_macd.plot(xm, macd_signal, color="blue", linewidth=1)
    ax_macd.set_ylim(-0.67, 0.55)
    ax_macd.set_yticks([-0.5, -0.25, 0, 0.25, 0.5])
    ax_macd.text(0.024, 0.84, "MACD (12, 26, 9)", transform=ax_macd.transAxes, fontsize=9, va="center")

    ax_macd.set_xlim(0, n)
    ax_macd.set_xticks(np.arange(0, 10 * len(tick_labels), 10))
    ax_macd.set_xticklabels(tick_labels, rotation=45, ha="right")

    fig.savefig("out.png", dpi=100)


if __name__ == "__main__":
    main()
